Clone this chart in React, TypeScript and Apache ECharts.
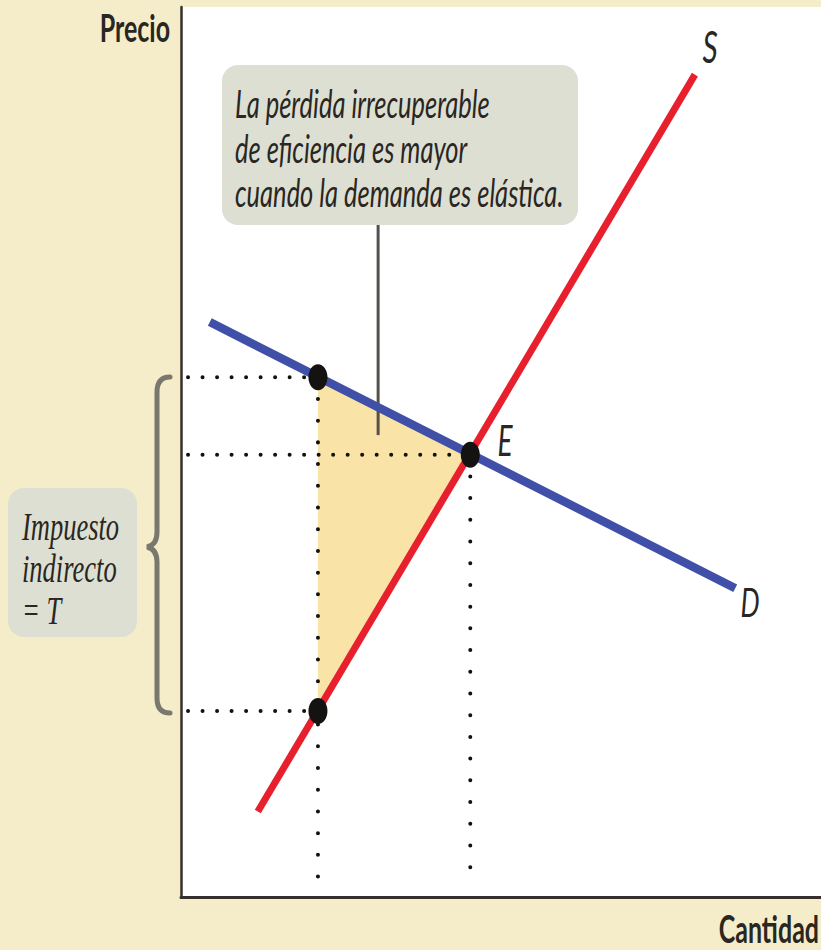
import React, { useEffect, useRef } from "react";
import * as echarts from "echarts";

// ---- data (abstract units: x 0..100, y 0..100) ----
const DEMAND: number[][] = [[4.5, 64.6], [86.6, 34.7]];
const SUPPLY: number[][] = [[12.0, 9.6], [80.3, 92.4]];
const POINT_NAMES = ["A", "E", "B"];
const POINT_X = [21.4, 45.2, 21.4];
const POINT_Y = [58.4, 49.7, 20.9];
const GUIDE_START_X = 1.1;
const GUIDE_END_Y = 1.3;
const POINTER_X = 30.8;
const POINTER_Y = [75.5, 51.9];
const LABELS = ["S", "D", "E"];

const CREAM = "#f5edc9";
const BOX = "#dcdfd2";
const INK = "#2a2622";

const ellipse =
  "path://M0,50 C0,22 22,0 50,0 C78,0 100,22 100,50 C100,78 78,100 50,100 C22,100 0,78 0,50 Z";

const bracePath =
  "M170,377 Q157,377 157,392 L157,532 Q157,545 147,547 Q157,549 157,562 L157,698 Q157,713 170,713";

let registered = false;
function registerShapes() {
  if (registered) return;
  registered = true;
  echarts.graphic.registerShape("brace", echarts.graphic.extendPath(bracePath, {}));
}

export default function App() {
  const ref = useRef<HTMLDivElement>(null);
  useEffect(() => {
    document.body.style.margin = "0";
    document.body.style.background = CREAM;
    registerShapes();
    const chart = echarts.init(ref.current!, null, { renderer: "svg" });

    const triangle = POINT_X.map((x, i) => [x, POINT_Y[i]]);
    const hGuides = POINT_X.map((x, i) => ({
      type: "line",
      data: [[GUIDE_START_X, POINT_Y[i]], [x, POINT_Y[i]]],
      symbol: "none",
      z: 2,
      lineStyle: { color: "#111", width: 4, type: [0.01, 14.5], cap: "round" },
      silent: true,
    }));
    const vGuides = [0, 1].map((i) => ({
      type: "line",
      data: [[POINT_X[i], POINT_Y[i]], [POINT_X[i], GUIDE_END_Y]],
      symbol: "none",
      z: 2,
      lineStyle: { color: "#111", width: 4, type: [0.01, 21.7], cap: "round" },
      silent: true,
    }));

    const sans = "Lato, 'Open Sans', sans-serif";
    const serif = "'Liberation Serif', 'DejaVu Serif', serif";

    const stretchedText = (x: number, y: number, text: string, extra: any) => ({
      type: "text",
      x,
      y,
      scaleY: 1.5,
      z: 20,
      style: { text, fill: INK, fontFamily: sans, verticalAlign: "middle", ...extra },
    });

    chart.setOption({
      animation: false,
      backgroundColor: CREAM,
      grid: {
        left: 181,
        top: 7,
        width: 640,
        height: 890,
        show: true,
        backgroundColor: "#ffffff",
        borderWidth: 0,
      },
      xAxis: {
        type: "value",
        min: 0,
        max: 100,
        axisLine: { show: true, lineStyle: { color: "#35302b", width: 3 } },
        axisTick: { show: false },
        axisLabel: { show: false },
        splitLine: { show: false },
      },
      yAxis: {
        type: "value",
        min: 0,
        max: 100,
        axisLine: { show: true, lineStyle: { color: "#35302b", width: 2.5 } },
        axisTick: { show: false },
        axisLabel: { show: false },
        splitLine: { show: false },
      },
      series: [
        {
          type: "custom",
          z: 1,
          silent: true,
          data: [0],
          renderItem: (_p: any, api: any) => ({
            type: "polygon",
            shape: { points: triangle.map((pt) => api.coord(pt)) },
            style: { fill: "#f9e3a6" },
          }),
        },
        ...hGuides,
        ...vGuides,
        {
          type: "line",
          data: [[POINTER_X, POINTER_Y[0]], [POINTER_X, POINTER_Y[1]]],
          symbol: "none",
          z: 3,
          lineStyle: { color: "#55524c", width: 3 },
          silent: true,
        },
        {
          type: "line",
          name: "D",
          data: DEMAND,
          symbol: "none",
          z: 4,
          lineStyle: { color: "#4050a8", width: 8.5 },
          silent: true,
        },
        {
          type: "line",
          name: "S",
          data: SUPPLY,
          symbol: "none",
          z: 5,
          lineStyle: { color: "#e8202e", width: 7 },
          silent: true,
        },
        {
          type: "scatter",
          z: 6,
          symbol: ellipse,
          symbolSize: [19, 26],
          itemStyle: { color: "#151312", opacity: 1 },
          data: POINT_X.map((x, i) => ({ name: POINT_NAMES[i], value: [x, POINT_Y[i]] })),
          silent: true,
        },
      ],
      graphic: [
        {
          type: "rect",
          shape: { x: 222, y: 65, width: 356, height: 160, r: 16 },
          style: { fill: BOX },
          z: 10,
        },
        {
          type: "rect",
          shape: { x: 8, y: 488, width: 129, height: 149, r: 16 },
          style: { fill: BOX },
          z: 10,
        },
        {
          type: "brace",
          x: 0,
          y: 0,
          z: 10,
          style: { fill: "none", stroke: "#7a776f", lineWidth: 5, lineCap: "round" },
        },
        stretchedText(235, 148,
          "La pérdida irrecuperable\nde eficiencia es mayor\ncuando la demanda es elástica.",
          { fontStyle: "italic", fontSize: 25.5, lineHeight: 29.5, align: "left" }),
        stretchedText(22, 568, "Impuesto\nindirecto\n= T",
          { fontFamily: serif, fontStyle: "italic", fontSize: 26.5, lineHeight: 28, align: "left" }),
        stretchedText(170, 28, "Precio", { fontWeight: "bold", fontSize: 25, align: "right" }),
        stretchedText(819, 929, "Cantidad", { fontWeight: "bold", fontSize: 25, align: "right" }),
        stretchedText(710, 45, LABELS[0], { fontStyle: "italic", fontSize: 30, align: "center" }),
        stretchedText(750, 601, LABELS[1], { fontStyle: "italic", fontSize: 27, align: "center" }),
        stretchedText(505, 440, LABELS[2], { fontStyle: "italic", fontSize: 28, align: "center" }),
      ],
    });
    return () => chart.dispose();
  }, []);
  return <div ref={ref} style={{ width: 821, height: 950 }} />;
}
